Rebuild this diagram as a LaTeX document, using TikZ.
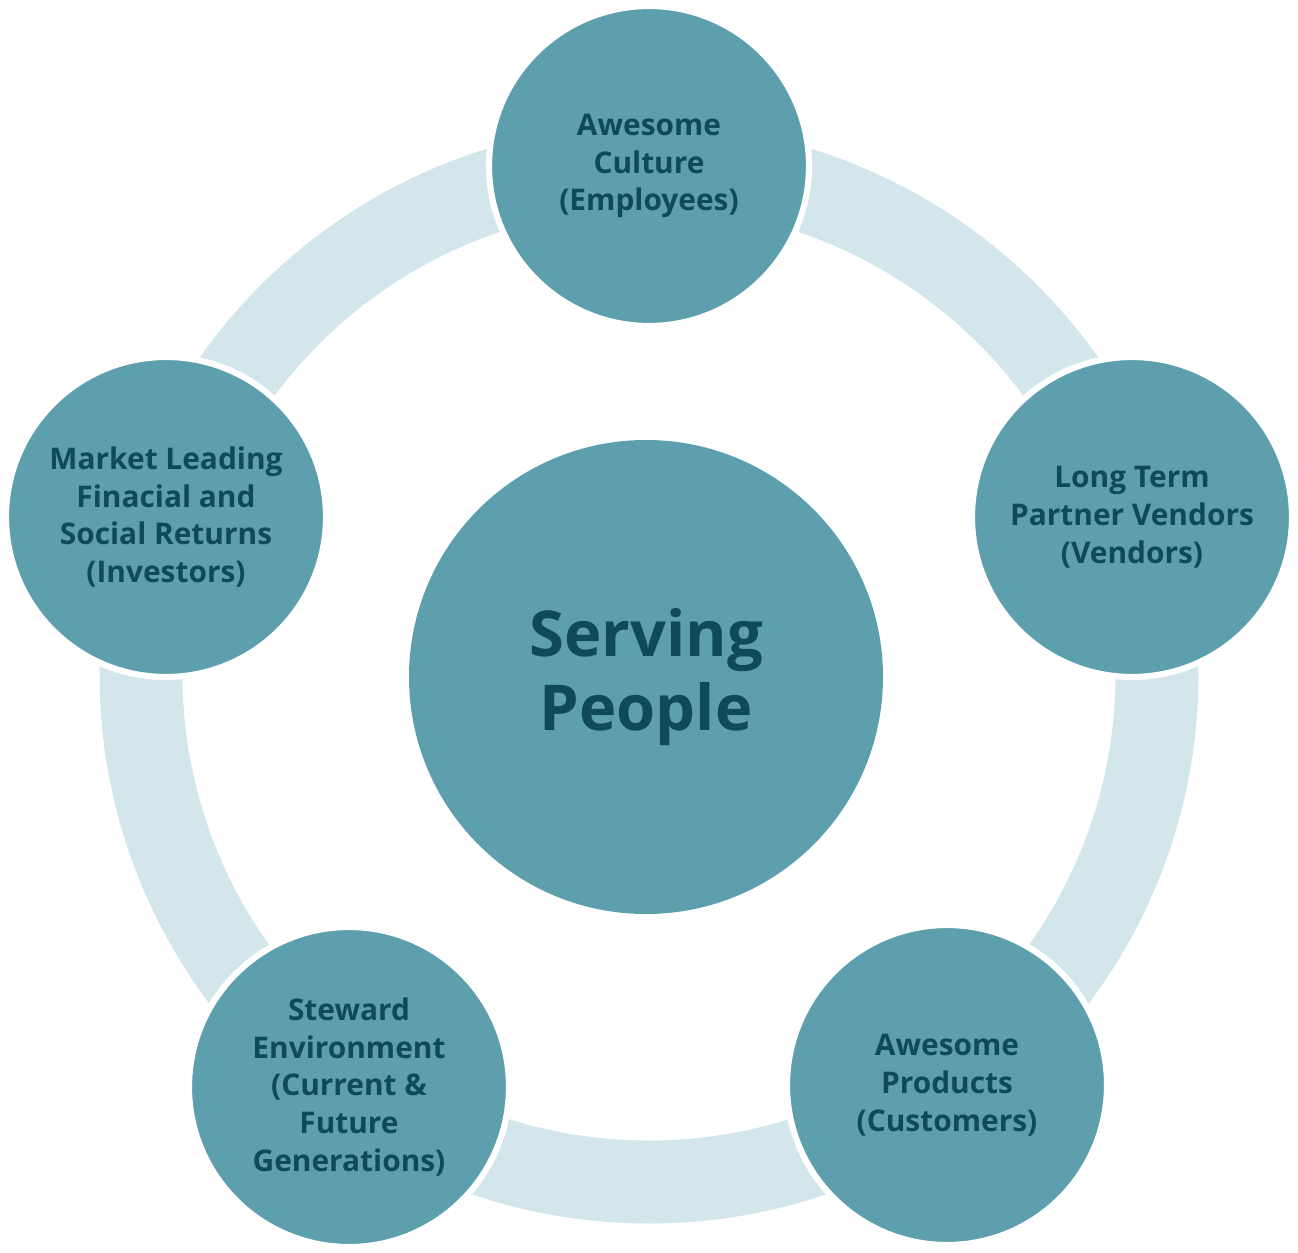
\documentclass[tikz,border=0pt]{standalone}
\usepackage{fontspec}
\setmainfont{Open Sans}
\definecolor{ring}{HTML}{D3E6EC}
\definecolor{disc}{HTML}{5E9FAE}
\definecolor{ink}{HTML}{0E4A5A}
\tikzset{
 outer/.style={circle,fill=disc,draw=white,line width=3.5pt,minimum size=320*0.02cm,inner sep=0pt,text=ink,align=center,font=\fontsize{17}{21.5}\selectfont\bfseries},
}
\begin{document}
\begin{tikzpicture}[x=0.02cm,y=-0.02cm]
\useasboundingbox (0,0) rectangle (1298,1253);
\draw[ring,line width=83*0.02cm] (649,674) circle (508*0.02cm);
\node[circle,fill=disc,minimum size=474*0.02cm,inner sep=0pt,text=ink,align=center,font=\fontsize{36}{42.5}\selectfont\bfseries] (c) at (646,677) {Serving\\People};
\node[outer] (t) at (649,166) {Awesome\\Culture\\(Employees)};
\node[outer] (r) at (1132,517) {Long Term\\Partner Vendors\\(Vendors)};
\node[outer] (br) at (947,1085) {Awesome\\Products\\(Customers)};
\node[outer] (bl) at (349,1087) {Steward\\Environment\\(Current \&\\Future\\Generations)};
\node[outer] (l) at (166,517) {Market Leading\\Finacial and\\Social Returns\\(Investors)};
\end{tikzpicture}
\end{document}
